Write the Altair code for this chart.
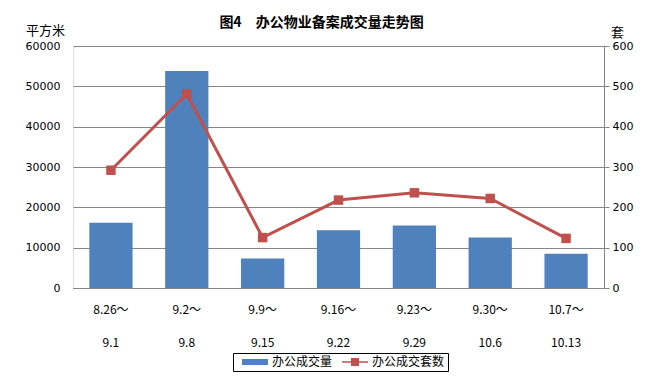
import altair as alt
import pandas as pd

categories = ["8.26～|9.1", "9.2～|9.8", "9.9～|9.15", "9.16～|9.22",
              "9.23～|9.29", "9.30～|10.6", "10.7～|10.13"]
area = [16200, 53800, 7300, 14300, 15500, 12500, 8500]      # 办公成交量 (平方米)
units = [292, 481, 125, 218, 236, 222, 123]                  # 办公成交套数 (套)
series_names = ["办公成交量", "办公成交套数"]
series_colors = ["#4F81BD", "#C0504D"]
left_ticks = [0, 10000, 20000, 30000, 40000, 50000, 60000]
right_ticks = [0, 100, 200, 300, 400, 500, 600]

df = pd.DataFrame({"cat": categories, "area": area, "units": units})
leg = pd.DataFrame({"series": series_names})

CJK = "Noto Sans CJK SC"
NUM = "DejaVu Sans"
GRAY = "#868686"

x_enc = alt.X(
    "cat:N", sort=categories, title=None,
    scale=alt.Scale(paddingInner=0.43, paddingOuter=0.215),
    axis=alt.Axis(labelExpr="split(datum.label, '|')", labelAngle=0,
                  labelLineHeight=33, labelPadding=16, labelFont=CJK,
                  labelFontSize=12, labelColor="black", ticks=False,
                  domainColor=GRAY, domainWidth=1),
)

bars = alt.Chart(df).mark_bar(color=series_colors[0]).encode(
    x=x_enc,
    y=alt.Y("area:Q", scale=alt.Scale(domain=[0, 60000], nice=False),
            axis=alt.Axis(orient="left", values=left_ticks, format="d",
                          grid=True, gridColor=GRAY, domain=False, ticks=False,
                          labelPadding=13, labelFont=NUM, labelFontSize=11,
                          labelColor="black", title="平方米", titleAngle=0,
                          titleX=-28, titleY=-9, titleAlign="center",
                          titleBaseline="bottom", titleFont=CJK,
                          titleFontSize=13, titleFontWeight="normal",
                          titleColor="black")),
)

y_right = alt.Y("units:Q", scale=alt.Scale(domain=[0, 600], nice=False),
                axis=alt.Axis(orient="right", values=right_ticks, format="d",
                              grid=False, domain=True, domainColor=GRAY,
                              ticks=True, tickSize=5, tickColor=GRAY,
                              labelPadding=3, labelFont=NUM, labelFontSize=11,
                              labelColor="black", title="套", titleAngle=0,
                              titleX=13, titleY=-7, titleAlign="center",
                              titleBaseline="bottom", titleFont=CJK,
                              titleFontSize=13, titleFontWeight="normal",
                              titleColor="black"))

line = alt.Chart(df).mark_line(color=series_colors[1], strokeWidth=3).encode(
    x=alt.X("cat:N", sort=categories), y=y_right)

points = alt.Chart(df).mark_point(shape="square", filled=True,
                                  color=series_colors[1], size=90,
                                  opacity=1).encode(
    x=alt.X("cat:N", sort=categories), y=y_right)

legend_def = alt.Legend(title=None, orient="none", legendX=160, legendY=307,
                        direction="horizontal", strokeColor="black",
                        padding=3, symbolSize=100, symbolOpacity=1,
                        symbolStrokeWidth=0, labelOffset=24, columnPadding=3,
                        labelFont=CJK, labelFontSize=12, labelColor="black")
shape_paths = ["M0,-0.6H5.2V0.6H0Z",
               "M0,-0.15H5.2V0.15H0Z M1.8,-0.8H3.4V0.8H1.8Z"]

legend_layer = alt.Chart(leg).mark_point(filled=True, opacity=0).encode(
    color=alt.Color("series:N", sort=series_names,
                    scale=alt.Scale(domain=series_names, range=series_colors),
                    legend=legend_def),
    shape=alt.Shape("series:N", sort=series_names,
                    scale=alt.Scale(domain=series_names, range=shape_paths),
                    legend=legend_def),
)

right_group = alt.layer(line, points, legend_layer)

chart = alt.layer(bars, right_group).resolve_scale(y="independent").properties(
    width=531, height=242,
    title=alt.TitleParams("图4　办公物业备案成交量走势图", font=CJK, fontSize=14,
                          fontWeight="bold", anchor="middle", offset=14,
                          dx=-17, dy=20, color="black"),
    padding={"left": 65, "top": 38, "right": 37, "bottom": 88},
    autosize=alt.AutoSizeParams(type="none"),
).configure_view(stroke=None).configure(background="white")

chart.save("out.html", embed_options={"renderer": "svg", "actions": False})
